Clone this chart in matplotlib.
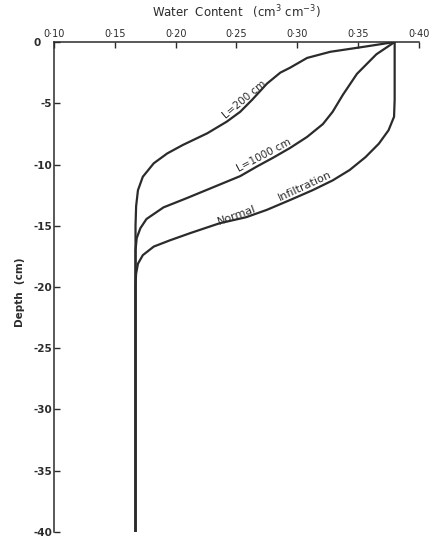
import matplotlib
matplotlib.use('Agg')
import matplotlib.pyplot as plt
from matplotlib.transforms import ScaledTranslation

# water content (cm3/cm3) vs depth (cm)
theta_200 = [0.380, 0.354, 0.327, 0.308, 0.294, 0.286, 0.275, 0.263, 0.253, 0.242,
             0.226, 0.206, 0.193, 0.182, 0.173, 0.169, 0.1675, 0.167, 0.167]
depth_200 = [0.0, -0.4, -0.8, -1.3, -2.1, -2.5, -3.4, -4.7, -5.7, -6.5,
             -7.45, -8.4, -9.1, -9.9, -11.0, -12.1, -13.4, -15.0, -40.0]

theta_1000 = [0.380, 0.365, 0.349, 0.3375, 0.329, 0.321, 0.308, 0.294, 0.280, 0.267,
              0.253, 0.231, 0.209, 0.190, 0.176, 0.171, 0.168, 0.167, 0.167]
depth_1000 = [0.0, -1.0, -2.6, -4.3, -5.7, -6.7, -7.75, -8.65, -9.45, -10.15,
              -10.95, -11.85, -12.75, -13.5, -14.45, -15.2, -16.0, -17.0, -40.0]

theta_norm = [0.380, 0.380, 0.3795, 0.375, 0.367, 0.356, 0.343, 0.329, 0.3125, 0.294,
              0.275, 0.258, 0.236, 0.212, 0.195, 0.182, 0.173, 0.169, 0.1675, 0.167, 0.167]
depth_norm = [0.0, -4.7, -6.1, -7.2, -8.3, -9.4, -10.45, -11.3, -12.1, -12.9,
              -13.7, -14.3, -14.8, -15.6, -16.2, -16.7, -17.4, -18.1, -18.9, -19.8, -40.0]

xticks = [0.10, 0.15, 0.20, 0.25, 0.30, 0.35, 0.40]
xticklabels = ['0·10', '0·15', '0·20', '0·25', '0·30', '0·35', '0·40']
yticks = [0, -5, -10, -15, -20, -25, -30, -35, -40]
yticklabels = ['0', '-5', '-10', '-15', '-20', '-25', '-30', '-35', '-40']

ink = '#2b2b2b'

fig = plt.figure(figsize=(4.38, 5.45), dpi=100)
ax = fig.add_axes([0.1233, 0.0239, 0.8333, 0.899])

for th, d in [(theta_200, depth_200), (theta_1000, depth_1000), (theta_norm, depth_norm)]:
    ax.plot(th, d, color=ink, lw=1.6, solid_capstyle='round', solid_joinstyle='round')

ax.set_xlim(0.10, 0.40)
ax.set_ylim(-40, 0)

ax.xaxis.tick_top()
ax.set_xticks(xticks)
ax.set_xticklabels(xticklabels, fontsize=7, color=ink)
ax.set_yticks(yticks)
ax.set_yticklabels(yticklabels, fontsize=7.5, color=ink, fontweight='bold')
ax.tick_params(direction='in', length=4, width=1, color=ink, pad=1.5)
ax.tick_params(axis='x', pad=2.5)

# the "0" at the corner sits a bit further left
lab0 = ax.get_yticklabels()[0]
lab0.set_transform(lab0.get_transform() + ScaledTranslation(-8 / 72, 0, fig.dpi_scale_trans))

for s in ['right', 'bottom']:
    ax.spines[s].set_visible(False)
for s in ['left', 'top']:
    ax.spines[s].set_color(ink)
    ax.spines[s].set_linewidth(1.1)

ax.set_xlabel('Water  Content   (cm$^3$ cm$^{-3}$)', fontsize=8.5, color=ink, labelpad=8)
ax.xaxis.set_label_position('top')
ax.set_ylabel('Depth  (cm)', fontsize=7.5, color=ink, fontweight='bold')
ax.yaxis.set_label_coords(-0.08, 0.49)

# curve labels
ax.text(0.2562, -4.73, 'L=200 cm', rotation=40, fontsize=7.5, color=ink,
        ha='center', va='center', rotation_mode='anchor')
ax.text(0.2722, -9.27, 'L=1000 cm', rotation=28, fontsize=7.5, color=ink,
        ha='center', va='center', rotation_mode='anchor')
ax.text(0.2504, -14.16, 'Normal', rotation=20, fontsize=8, color=ink,
        ha='center', va='center', rotation_mode='anchor')
ax.text(0.3063, -11.76, 'Infiltration', rotation=25, fontsize=8, color=ink,
        ha='center', va='center', rotation_mode='anchor')

plt.savefig('out.png', dpi=100)
